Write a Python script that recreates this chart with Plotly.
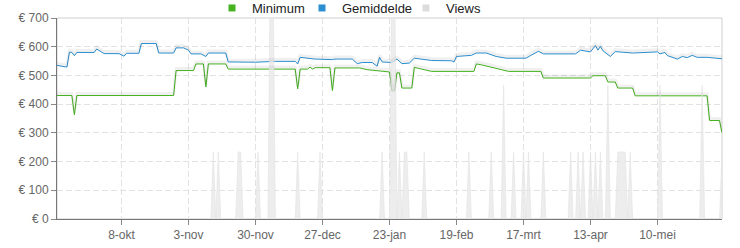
import pandas as pd
import plotly.graph_objects as go

# ---------------- data ----------------
x_start = "2015-09-11"
x_end = "2016-06-05"

tick_dates = ["2015-10-07", "2015-11-03", "2015-11-30", "2015-12-27", "2016-01-23",
              "2016-02-19", "2016-03-17", "2016-04-13", "2016-05-10"]
tick_labels = ["8-okt", "3-nov", "30-nov", "27-dec", "23-jan",
               "19-feb", "17-mrt", "13-apr", "10-mei"]

price_ticks = [0, 100, 200, 300, 400, 500, 600, 700]

min_dates = ["2015-09-11", "2015-09-17", "2015-09-18", "2015-09-19", "2015-10-28", "2015-10-29",
             "2015-11-05", "2015-11-06", "2015-11-09", "2015-11-10", "2015-11-11", "2015-11-18",
             "2015-11-19", "2015-12-16", "2015-12-17", "2015-12-18", "2015-12-21", "2015-12-22",
             "2015-12-23", "2015-12-24", "2015-12-30", "2015-12-31", "2016-01-01", "2016-01-11",
             "2016-01-14", "2016-01-22", "2016-01-23", "2016-01-24", "2016-01-25", "2016-01-26",
             "2016-01-27", "2016-01-28", "2016-02-01", "2016-02-02", "2016-02-09", "2016-02-26",
             "2016-02-27", "2016-02-29", "2016-03-11", "2016-03-24", "2016-03-25", "2016-04-13",
             "2016-04-14", "2016-04-19", "2016-04-20", "2016-04-23", "2016-04-24", "2016-04-30",
             "2016-05-01", "2016-05-30", "2016-05-31", "2016-06-04", "2016-06-05"]
min_values = [430, 430, 363, 430, 430, 517,
              517, 540, 540, 460, 540, 540,
              522, 522, 453, 522, 522, 529,
              522, 527, 527, 447, 526, 526,
              520, 514, 512, 445, 445, 509,
              509, 456, 456, 528, 514, 514,
              540, 537, 514, 514, 491, 491,
              499, 499, 477, 477, 456, 456,
              429, 429, 343, 343, 300]

avg_dates = ["2015-09-11", "2015-09-15", "2015-09-16", "2015-09-17", "2015-09-18", "2015-09-19",
             "2015-09-26", "2015-09-27", "2015-09-30", "2015-10-06", "2015-10-08", "2015-10-09",
             "2015-10-14", "2015-10-15", "2015-10-21", "2015-10-22", "2015-10-28", "2015-10-29",
             "2015-11-01", "2015-11-03", "2015-11-04", "2015-11-08", "2015-11-10", "2015-11-11",
             "2015-11-18", "2015-11-19", "2015-11-30", "2015-12-08", "2015-12-16", "2015-12-17",
             "2015-12-18", "2015-12-22", "2015-12-24", "2015-12-31", "2016-01-01", "2016-01-08",
             "2016-01-10", "2016-01-12", "2016-01-16", "2016-01-18", "2016-01-19", "2016-01-20",
             "2016-01-23", "2016-01-24", "2016-01-26", "2016-01-28", "2016-01-31", "2016-02-02",
             "2016-02-09", "2016-02-17", "2016-02-18", "2016-02-19", "2016-02-25", "2016-02-27",
             "2016-03-02", "2016-03-06", "2016-03-10", "2016-03-18", "2016-03-20", "2016-03-23",
             "2016-03-25", "2016-04-07", "2016-04-09", "2016-04-12", "2016-04-13", "2016-04-15",
             "2016-04-16", "2016-04-17", "2016-04-18", "2016-04-21", "2016-04-23", "2016-04-30",
             "2016-05-03", "2016-05-10", "2016-05-11", "2016-05-13", "2016-05-14", "2016-05-18",
             "2016-05-20", "2016-05-22", "2016-05-24", "2016-05-26", "2016-05-30", "2016-06-05"]
avg_values = [535, 529, 581, 580, 569, 580,
              580, 592, 576, 576, 567, 577,
              577, 611, 611, 578, 578, 596,
              596, 588, 575, 575, 566, 578,
              578, 547, 546, 549, 549, 540,
              563, 560, 557, 555, 557, 557,
              541, 545, 545, 532, 563, 547,
              546, 545, 557, 541, 543, 560,
              552, 551, 547, 566, 570, 578,
              578, 566, 560, 560, 570, 584,
              575, 575, 588, 585, 582, 604,
              588, 601, 586, 566, 583, 578,
              580, 582, 575, 580, 569, 557,
              566, 562, 570, 563, 563, 558]

view_dates = ["2015-11-13", "2015-11-15", "2015-11-23", "2015-11-24", "2015-12-01", "2015-12-06",
              "2015-12-07", "2015-12-17", "2015-12-26", "2016-01-20", "2016-01-24", "2016-01-25",
              "2016-01-27", "2016-01-29", "2016-01-30", "2016-02-06", "2016-02-24", "2016-03-04",
              "2016-03-09", "2016-03-13", "2016-03-17", "2016-03-19", "2016-03-25", "2016-04-05",
              "2016-04-08", "2016-04-10", "2016-04-13", "2016-04-15", "2016-04-17", "2016-04-20",
              "2016-04-24", "2016-04-25", "2016-04-26", "2016-04-27", "2016-04-29", "2016-05-11",
              "2016-05-28", "2016-06-05"]
view_counts = [1, 1, 1, 1, 1, 4,
               4, 1, 1, 1, 4, 4,
               1, 1, 1, 1, 1, 1,
               2, 1, 1, 1, 1, 1,
               1, 1, 1, 1, 1, 2,
               1, 1, 1, 1, 1, 2,
               2, 1]

# ---------------- styling ----------------
GREEN = "#45b21f"
BLUE = "#2a8ed0"
GREY = "#dcdcdc"
FONT = "Liberation Sans, Arial, sans-serif"

days = pd.date_range(x_start, x_end, freq="D")
views = pd.Series(view_counts, index=pd.to_datetime(view_dates)).reindex(days, fill_value=0)

fig = go.Figure()

fig.add_trace(go.Scatter(
    x=days, y=views.values, yaxis="y2", mode="lines", name="Views",
    line=dict(color="#e2e2e2", width=0.6), fill="tozeroy",
    fillcolor="rgba(232,232,232,0.8)", showlegend=False, hoverinfo="skip"))

# soft shadows under the lines (same data, drawn on an axis offset by ~2px)
for xs, ys in ((min_dates, min_values), (avg_dates, avg_values)):
    fig.add_trace(go.Scatter(
        x=xs, y=ys, yaxis="y3", mode="lines", showlegend=False, hoverinfo="skip",
        line=dict(color="rgba(0,0,0,0.06)", width=3)))

fig.add_trace(go.Scatter(x=min_dates, y=min_values, mode="lines", name="Minimum",
                         line=dict(color=GREEN, width=1), showlegend=False))
fig.add_trace(go.Scatter(x=avg_dates, y=avg_values, mode="lines", name="Gemiddelde",
                         line=dict(color=BLUE, width=1), showlegend=False))

# legend entries (square symbols like the original)
for nm, col, lw in (("Minimum", GREEN, 45), ("Gemiddelde", BLUE, 59), ("Views", GREY, 40)):
    fig.add_trace(go.Scatter(x=[None], y=[None], mode="markers", name=nm,
                             marker=dict(symbol="square", size=7, color=col),
                             legendwidth=lw, showlegend=True))

grid = dict(showgrid=True, gridcolor="#e2e2e2", griddash="6px,3px", gridwidth=1,
            ticks="outside", ticklen=5, tickcolor="#888", showline=True,
            linecolor="#777", linewidth=1, zeroline=False)

fig.update_layout(
    width=740, height=248,
    margin=dict(l=57, r=18, t=18, b=29, autoexpand=False),
    paper_bgcolor="white", plot_bgcolor="white",
    font=dict(family=FONT, size=12, color="#666"),
    hovermode=False,
    xaxis=dict(type="date", range=[x_start, x_end], tickvals=tick_dates,
               ticktext=tick_labels, **grid),
    yaxis=dict(range=[0, 700], tickvals=price_ticks,
               ticktext=["€ " + str(v) for v in price_ticks], **grid),
    yaxis2=dict(overlaying="y", range=[0, 3], visible=False),
    yaxis3=dict(overlaying="y", range=[-7, 693], visible=False),
    legend=dict(orientation="h", xref="container", x=(232 - 20) / 740, xanchor="left",
                yref="paper", y=1 + 25 / 201, yanchor="top",
                font=dict(family=FONT, size=13, color="#222"),
                bgcolor="rgba(0,0,0,0)", itemsizing="trace"),
    shapes=[dict(type="rect", xref="paper", yref="paper", x0=0, x1=1, y0=0, y1=1,
                 line=dict(color="#cfcfcf", width=1), layer="below")],
)

fig.write_html("out.html")
